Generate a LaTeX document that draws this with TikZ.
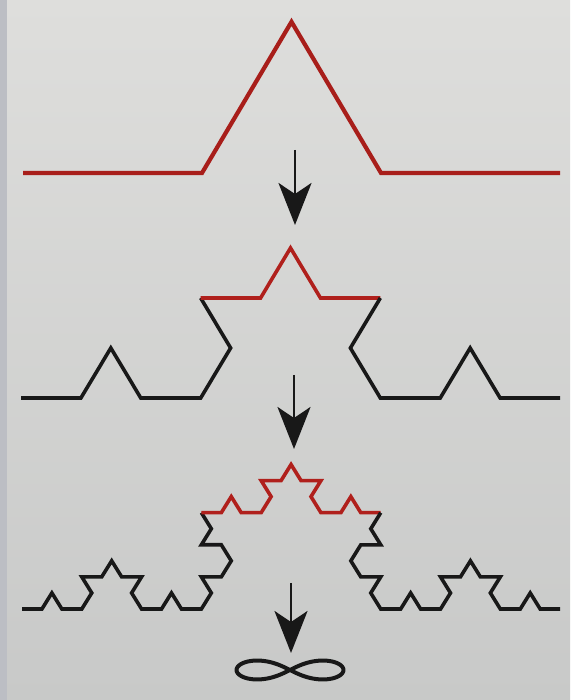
\documentclass[tikz,border=0pt]{standalone}
\usetikzlibrary{arrows.meta}
\definecolor{kred}{RGB}{176,32,28}
\definecolor{kredtop}{RGB}{168,30,26}
\definecolor{kblack}{RGB}{24,24,24}
\definecolor{papertop}{RGB}{222,222,220}
\definecolor{paperbot}{RGB}{200,201,200}
\definecolor{edge}{RGB}{188,190,196}
\begin{document}
\begin{tikzpicture}[x=1pt,y=1pt,
  declare function={td(\d)=60*((\d==1)-(\d==2));
                     kd(\k)=td(mod(\k,4))+td(mod(floor(\k/4),4))+td(mod(floor(\k/16),4));},
  kochline/.style={line width=#1, line join=miter, miter limit=4, line cap=butt},
  redpart/.style={kochline=#1, draw=kred},
  blackpart/.style={kochline=#1, draw=kblack},
  infline/.style={draw=kblack, line width=4pt, line join=round},
  downarrow/.style={draw=kblack, line width=2.8pt,
    -{Stealth[length=42pt,width=33pt,inset=11pt,fill=kblack]}}]
% paper
\shade[top color=papertop, bottom color=paperbot] (0,0) rectangle (570,700);
\fill[edge] (0,0) rectangle (7,700);
\useasboundingbox (0,0) rectangle (570,700);

% level 1
\begin{scope}[shift={(23,527)}, yscale=0.975]
  \draw[redpart=4.2pt, draw=kredtop] (0,0) coordinate (l1s)
    \foreach \k in {0,...,3}{ -- ++({kd(\k)}:179) } coordinate (l1e);
\end{scope}

% level 2
\begin{scope}[shift={(21,302)}, yscale=0.964]
  \def\s{59.89}
  \draw[blackpart=3.6pt] (0,0) coordinate (l2s)
    \foreach \k in {0,...,5}{ -- ++({kd(\k)}:\s) } coordinate (l2a);
  \draw[redpart=3.6pt] (l2a)
    \foreach \k in {6,...,9}{ -- ++({kd(\k)}:\s) } coordinate (l2b);
  \draw[blackpart=3.6pt] (l2b)
    \foreach \k in {10,...,15}{ -- ++({kd(\k)}:\s) } coordinate (l2e);
\end{scope}

% level 3
\begin{scope}[shift={(22,91)}, yscale=0.93]
  \def\s{19.93}
  \draw[blackpart=3.6pt] (0,0) coordinate (l3s)
    \foreach \k in {0,...,23}{ -- ++({kd(\k)}:\s) } coordinate (l3a);
  \draw[redpart=3.6pt] (l3a)
    \foreach \k in {24,...,39}{ -- ++({kd(\k)}:\s) } coordinate (l3b);
  \draw[blackpart=3.6pt] (l3b)
    \foreach \k in {40,...,63}{ -- ++({kd(\k)}:\s) } coordinate (l3e);
\end{scope}

% arrows
\coordinate (a1s) at (295,550);
\coordinate (a1e) at (295,475);
\coordinate (a2s) at (294,325);
\coordinate (a2e) at (294,251);
\coordinate (a3s) at (291,117);
\coordinate (a3e) at (291,47);
\draw[downarrow] (a1s) -- (a1e);
\draw[downarrow] (a2s) -- (a2e);
\draw[downarrow] (a3s) -- (a3e);

% infinity symbol (drawn lemniscate)
\coordinate (inf) at (290,30);
\begin{scope}[shift={(inf)}]
  \draw[infline] plot[domain=0:357, samples=120, smooth cycle]
    ({53.5*cos(\x)/(1+sin(\x)*sin(\x))},
     {0.5*53.5*sin(\x)*cos(\x)/(1+sin(\x)*sin(\x))});
\end{scope}
\end{tikzpicture}
\end{document}
